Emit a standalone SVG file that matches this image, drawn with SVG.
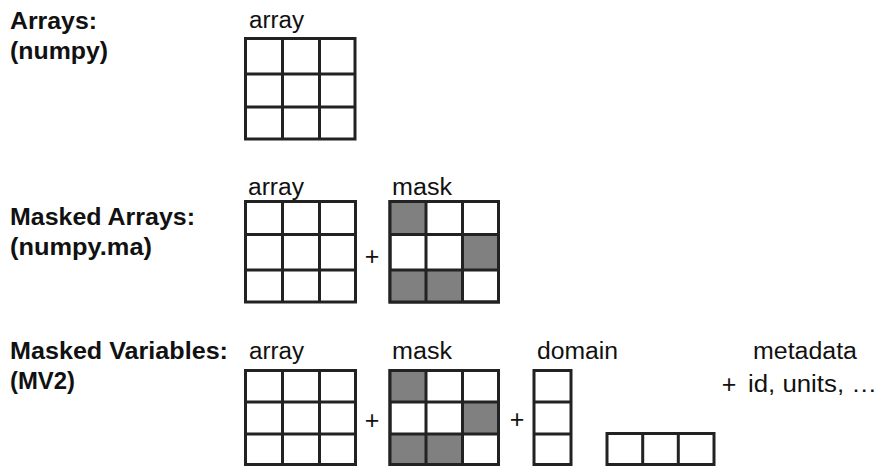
<svg xmlns="http://www.w3.org/2000/svg" width="879" height="466" viewBox="0 0 879 466">
<style>
.b{font-family:"Liberation Sans",Arial,sans-serif;font-weight:bold;font-size:23px;fill:#111}
.r{font-family:"Liberation Sans",Arial,sans-serif;font-size:23px;fill:#111}
.p{font-family:"Liberation Sans",Arial,sans-serif;font-size:25px;fill:#111}
.g{fill:#fff;stroke:#222;stroke-width:3}
.l{stroke:#222;stroke-width:3;fill:none}
.m{fill:#808080}
</style>
<rect width="879" height="466" fill="#fff"/>
<g id="labels">
<text class="b" x="10" y="29" textLength="87" lengthAdjust="spacingAndGlyphs">Arrays:</text>
<text class="b" x="10" y="59" textLength="98" lengthAdjust="spacingAndGlyphs">(numpy)</text>
<text class="b" x="10" y="225" textLength="185" lengthAdjust="spacingAndGlyphs">Masked Arrays:</text>
<text class="b" x="10" y="255" textLength="142" lengthAdjust="spacingAndGlyphs">(numpy.ma)</text>
<text class="b" x="10" y="359" textLength="218" lengthAdjust="spacingAndGlyphs">Masked Variables:</text>
<text class="b" x="10" y="389" textLength="65" lengthAdjust="spacingAndGlyphs">(MV2)</text>
</g>
<g id="array1">
<text class="r" x="249" y="28" textLength="55" lengthAdjust="spacingAndGlyphs">array</text>
<rect class="g" x="245.5" y="38.5" width="109.5" height="100.5"/>
<path class="l" d="M282.5 38.5V139M319.5 38.5V139M245.5 74H355M245.5 107H355"/>
</g>
<g id="array2">
<text class="r" x="248" y="195" textLength="56" lengthAdjust="spacingAndGlyphs">array</text>
<rect class="g" x="245.5" y="201.5" width="110" height="100.5"/>
<path class="l" d="M282.5 201.5V302M319.5 201.5V302M245.5 234.5H355.5M245.5 270H355.5"/>
</g>
<text id="plus2" class="p" x="372" y="265" text-anchor="middle">+</text>
<g id="mask2">
<text class="r" x="392" y="195" textLength="60" lengthAdjust="spacingAndGlyphs">mask</text>
<rect class="g" x="390" y="201.5" width="108.5" height="100.5"/>
<rect class="m" x="390" y="201.5" width="36" height="33"/>
<rect class="m" x="462.5" y="234.5" width="36" height="35.5"/>
<rect class="m" x="390" y="270" width="72.5" height="32"/>
<path class="l" d="M390 201.5H498.5V302H390ZM426 201.5V302M462.5 201.5V302M390 234.5H498.5M390 270H498.5"/>
</g>
<g id="array3">
<text class="r" x="249" y="359" textLength="55" lengthAdjust="spacingAndGlyphs">array</text>
<rect class="g" x="245.5" y="370.5" width="110" height="94"/>
<path class="l" d="M282.5 370.5V464.5M319.5 370.5V464.5M245.5 402H355.5M245.5 434H355.5"/>
</g>
<text id="plus3a" class="p" x="372" y="429" text-anchor="middle">+</text>
<g id="mask3">
<text class="r" x="392" y="359" textLength="60" lengthAdjust="spacingAndGlyphs">mask</text>
<rect class="g" x="390" y="370.5" width="108.5" height="94"/>
<rect class="m" x="390" y="370.5" width="36" height="31.5"/>
<rect class="m" x="462.5" y="402" width="36" height="32"/>
<rect class="m" x="390" y="434" width="72.5" height="30.5"/>
<path class="l" d="M390 370.5H498.5V464.5H390ZM426 370.5V464.5M462.5 370.5V464.5M390 402H498.5M390 434H498.5"/>
</g>
<text id="plus3b" class="p" x="517" y="428" text-anchor="middle">+</text>
<g id="domain">
<text class="r" x="537" y="359" textLength="81" lengthAdjust="spacingAndGlyphs">domain</text>
<rect class="g" x="534" y="370.5" width="37" height="94"/>
<path class="l" d="M534 402H571M534 434H571"/>
<rect class="g" x="607" y="433.5" width="107" height="31"/>
<path class="l" d="M642.7 433.5V464.5M678.3 433.5V464.5"/>
</g>
<g id="metadata">
<text class="r" x="753" y="359" textLength="104" lengthAdjust="spacingAndGlyphs">metadata</text>
<text class="p" x="729" y="393" text-anchor="middle">+</text>
<text class="r" x="748" y="392" textLength="129" lengthAdjust="spacingAndGlyphs">id, units, …</text>
</g>
</svg>
